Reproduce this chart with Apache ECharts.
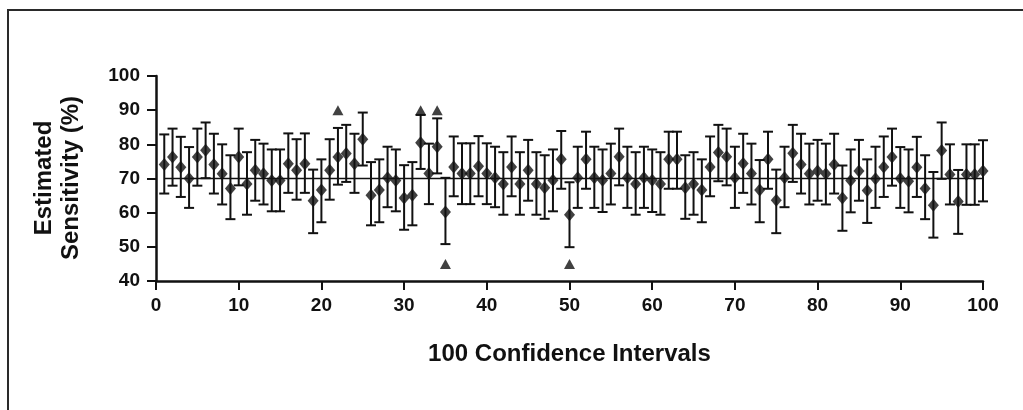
<!DOCTYPE html>
<html>
<head>
<meta charset="utf-8">
<title>Estimated Sensitivity – 100 Confidence Intervals</title>
<script src="https://cdn.jsdelivr.net/npm/echarts@6/dist/echarts.min.js"></script>
<style>
  html, body { margin: 0; padding: 0; background: #fff; }
  #chart { width: 1023px; height: 410px; }
</style>
</head>
<body>
<div id="chart"></div>
<script>
// Point estimates of sensitivity (%) for intervals 1..100
const estimates = [
  74.1, 76.3, 73.3, 70.0, 76.3, 78.3, 74.1, 71.4, 67.1, 76.3,
  68.4, 72.4, 71.4, 69.4, 69.4, 74.3, 72.4, 74.3, 63.5, 66.6,
  72.4, 76.3, 77.3, 74.3, 81.5, 65.1, 66.6, 70.2, 69.4, 64.3,
  65.1, 80.5, 71.5, 79.3, 60.2, 73.4, 71.5, 71.5, 73.6, 71.5,
  70.2, 68.4, 73.4, 68.4, 72.4, 68.4, 67.3, 69.5, 75.6, 59.4,
  70.2, 75.6, 70.2, 69.5, 71.5, 76.4, 70.2, 68.4, 70.2, 69.5,
  68.4, 75.6, 75.6, 67.3, 68.4, 66.6, 73.4, 77.6, 76.4, 70.2,
  74.4, 71.5, 66.6, 75.6, 63.6, 70.2, 77.4, 74.1, 71.4, 72.2,
  71.4, 74.1, 64.3, 69.4, 72.2, 66.5, 69.9, 73.4, 76.3, 70.0,
  69.2, 73.3, 67.1, 62.2, 78.2, 71.2, 63.3, 71.2, 71.2, 72.2
];
// Lower confidence limits (%)
const lowerLimits = [
  65.6, 67.9, 64.6, 61.4, 67.9, 70.1, 65.6, 62.4, 58.1, 68.0,
  59.4, 63.5, 62.4, 60.4, 60.4, 65.8, 63.8, 65.8, 54.0, 57.2,
  63.8, 68.2, 69.0, 65.8, 73.8, 56.3, 57.2, 61.6, 60.4, 55.0,
  56.3, 72.8, 62.5, 71.5, 50.8, 64.8, 62.5, 62.5, 64.8, 62.5,
  61.6, 59.4, 64.8, 59.4, 63.5, 59.4, 58.2, 60.4, 67.0, 49.9,
  61.4, 67.0, 61.4, 60.2, 62.4, 68.0, 61.4, 59.4, 61.4, 60.2,
  59.4, 67.0, 67.0, 58.2, 59.4, 57.2, 64.8, 69.2, 68.0, 61.4,
  65.8, 62.4, 57.2, 67.0, 54.0, 61.6, 69.0, 65.6, 62.4, 63.5,
  62.4, 65.6, 54.7, 60.1, 63.5, 57.0, 61.4, 64.6, 67.9, 61.4,
  60.1, 64.6, 58.1, 52.7, 69.9, 62.4, 53.8, 62.3, 62.3, 63.3
];
// Upper confidence limits (%)
const upperLimits = [
  82.9, 84.6, 82.2, 79.2, 84.6, 86.4, 83.1, 80.0, 76.8, 84.6,
  77.7, 81.3, 80.2, 78.5, 78.5, 83.2, 81.5, 83.2, 72.6, 75.6,
  81.5, 84.8, 85.7, 83.1, 89.3, 74.8, 75.6, 79.3, 78.5, 73.9,
  74.8, 88.6, 80.2, 87.6, 70.2, 82.3, 80.3, 80.3, 82.4, 80.3,
  79.3, 77.7, 82.3, 77.7, 81.3, 77.7, 76.8, 78.5, 83.9, 68.9,
  79.3, 83.7, 79.3, 78.5, 80.2, 84.6, 79.3, 77.7, 79.3, 78.5,
  77.7, 83.7, 83.7, 76.8, 77.7, 75.6, 82.3, 85.7, 84.6, 79.3,
  83.1, 80.2, 75.4, 83.7, 72.6, 79.3, 85.7, 83.1, 80.2, 81.3,
  80.2, 83.1, 73.8, 78.5, 81.3, 75.6, 79.3, 82.3, 84.6, 79.2,
  78.5, 82.2, 76.8, 71.9, 86.4, 80.0, 72.5, 80.0, 80.0, 81.2
];
// True sensitivity reference level (%)
const trueSensitivity = 70;
// Intervals flagged as missing the true value: above / below
const missAboveIdx = [22, 32, 34];
const missAboveLevel = 90;
const missBelowIdx = [35, 50];
const missBelowLevel = 45;
// Axis tick settings
const xTicks = { min: 0, max: 100, step: 10 };
const yTicks = { min: 40, max: 100, step: 10 };

const FONT = '"Liberation Sans", Arial, Helvetica, sans-serif';
const INK = '#111';

const intervalIdx = estimates.map((_, i) => i + 1);
const ciData = intervalIdx.map((n, i) => [n, lowerLimits[i], upperLimits[i]]);
const pointData = intervalIdx.map((n, i) => [n, estimates[i]]);
const aboveData = missAboveIdx.map(n => [n, missAboveLevel]);
const belowData = missBelowIdx.map(n => [n, missBelowLevel]);

const chart = echarts.init(document.getElementById('chart'), null, { renderer: 'canvas' });

chart.setOption({
  animation: false,
  backgroundColor: '#fff',
  textStyle: { fontFamily: FONT },
  grid: { left: 156, right: 40, top: 76, bottom: 129, containLabel: false },
  graphic: [
    {
      type: 'rect',
      shape: { x: 8, y: 10, width: 1100, height: 500 },
      style: { fill: 'none', stroke: '#2a2a2a', lineWidth: 2 },
      silent: true
    },
    {
      type: 'text',
      x: 58, y: 178,
      rotation: Math.PI / 2,
      style: {
        text: 'Estimated\nSensitivity (%)',
        font: 'bold 24px ' + FONT,
        fill: INK,
        align: 'center',
        verticalAlign: 'middle',
        lineHeight: 27
      },
      silent: true
    }
  ],
  xAxis: {
    type: 'value',
    min: xTicks.min, max: xTicks.max, interval: xTicks.step,
    name: '100 Confidence Intervals',
    nameLocation: 'middle',
    nameGap: 61,
    nameTextStyle: { fontSize: 24, fontWeight: 'bold', color: INK, fontFamily: FONT },
    axisLine: { onZero: false, lineStyle: { color: INK, width: 2.5 } },
    axisTick: { length: 9, lineStyle: { color: INK, width: 2 } },
    axisLabel: { margin: 15, fontSize: 19, fontWeight: 'bold', color: INK, fontFamily: FONT },
    splitLine: { show: false }
  },
  yAxis: {
    type: 'value',
    min: yTicks.min, max: yTicks.max, interval: yTicks.step,
    axisLine: { show: true, lineStyle: { color: INK, width: 2.5 } },
    axisTick: { show: true, length: 9, lineStyle: { color: INK, width: 2 } },
    axisLabel: { margin: 16, fontSize: 19, fontWeight: 'bold', color: INK, fontFamily: FONT },
    splitLine: { show: false }
  },
  series: [
    {
      name: 'reference',
      type: 'line',
      data: [[1, trueSensitivity], [100, trueSensitivity]],
      symbol: 'none',
      lineStyle: { color: INK, width: 1.5 },
      z: 1,
      silent: true
    },
    {
      name: 'ci',
      type: 'custom',
      data: ciData,
      z: 2,
      renderItem: function (params, api) {
        const x = api.value(0);
        const lo = api.coord([x, api.value(1)]);
        const hi = api.coord([x, api.value(2)]);
        const half = 5;
        const style = { stroke: INK, lineWidth: 2, fill: 'none' };
        return {
          type: 'group',
          children: [
            { type: 'line', shape: { x1: lo[0], y1: lo[1], x2: hi[0], y2: hi[1] }, style },
            { type: 'line', shape: { x1: hi[0] - half, y1: hi[1], x2: hi[0] + half, y2: hi[1] }, style },
            { type: 'line', shape: { x1: lo[0] - half, y1: lo[1], x2: lo[0] + half, y2: lo[1] }, style }
          ]
        };
      }
    },
    {
      name: 'estimate',
      type: 'scatter',
      data: pointData,
      symbol: 'diamond',
      symbolSize: [11, 13],
      itemStyle: { color: INK },
      z: 3
    },
    {
      name: 'above',
      type: 'scatter',
      data: aboveData,
      symbol: 'triangle',
      symbolSize: [11, 10],
      itemStyle: { color: INK },
      z: 3
    },
    {
      name: 'below',
      type: 'scatter',
      data: belowData,
      symbol: 'triangle',
      symbolSize: [11, 10],
      itemStyle: { color: INK },
      z: 3
    }
  ]
});
</script>
</body>
</html>
